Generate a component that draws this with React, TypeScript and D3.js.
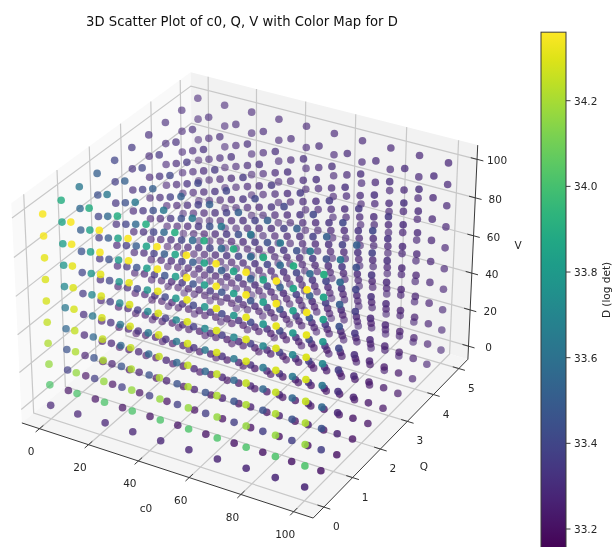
import React, { useEffect, useRef } from 'react';
import * as d3 from 'd3';

// grid levels of the scan
const c0Levels = [0, 11.11, 22.22, 33.33, 44.44, 55.56, 66.67, 77.78, 88.89, 100];
const qLevels = [0, 0.556, 1.111, 1.667, 2.222, 2.778, 3.333, 3.889, 4.444, 5];
const vLevels = [0, 11.11, 22.22, 33.33, 44.44, 55.56, 66.67, 77.78, 88.89, 100];

// D (log det) per Q level, one value per V level. c0 has no visible effect.
const dQ0 = [33.27, 34.02, 34.17, 34.21, 34.25, 34.28, 34.29, 34.31, 34.34, 34.35];
const dQ1 = [33.21, 33.37, 33.45, 33.55, 33.63, 33.71, 33.78, 33.82, 33.85, 33.9];
const dQ2 = [33.2, 33.25, 33.27, 33.31, 33.36, 33.4, 33.45, 33.5, 33.56, 33.63];
const dQ3 = [33.2, 33.22, 33.25, 33.27, 33.3, 33.33, 33.36, 33.39, 33.44, 33.51];
const dQ4 = [33.21, 33.22, 33.23, 33.25, 33.27, 33.28, 33.31, 33.33, 33.37, 33.4];
const dQ5 = [33.22, 33.23, 33.23, 33.25, 33.26, 33.27, 33.28, 33.3, 33.32, 33.34];
const dQ6 = [33.23, 33.23, 33.24, 33.24, 33.25, 33.26, 33.27, 33.28, 33.29, 33.31];
const dQ7 = [33.25, 33.25, 33.25, 33.25, 33.26, 33.26, 33.27, 33.28, 33.29, 33.3];
const dQ8 = [33.26, 33.26, 33.26, 33.26, 33.27, 33.27, 33.27, 33.28, 33.28, 33.29];
const dQ9 = [33.27, 33.27, 33.27, 33.27, 33.27, 33.27, 33.27, 33.28, 33.28, 33.28];
const dTable = [dQ0, dQ1, dQ2, dQ3, dQ4, dQ5, dQ6, dQ7, dQ8, dQ9];

const c0Ticks = [0, 20, 40, 60, 80, 100];
const qTicks = [0, 1, 2, 3, 4, 5];
const vTicks = [0, 20, 40, 60, 80, 100];
const dTicks = [33.2, 33.4, 33.6, 33.8, 34.0, 34.2];

const c0Lim: [number, number] = [-7.29, 107.29];
const qLim: [number, number] = [-0.365, 5.365];
const vLim: [number, number] = [-7.29, 107.29];
const dDomain: [number, number] = [33.15, 34.36];

const FONT = '"DejaVu Sans", sans-serif';
const TEXT = '#262626';

// same camera matplotlib uses for elev=30 azim=-60
const boxXY = 1.1905;
const boxZ = 0.8929;
const worldX = d3.scaleLinear().domain(c0Lim).range([-boxXY / 2, boxXY / 2]);
const worldY = d3.scaleLinear().domain(qLim).range([-boxXY / 2, boxXY / 2]);
const worldZ = d3.scaleLinear().domain(vLim).range([-boxZ / 2, boxZ / 2]);
const screenX = d3.scaleLinear().domain([0, 1]).range([249, 249 + 2803]);
const screenY = d3.scaleLinear().domain([0, 1]).range([284.5, 284.5 - 2803]);

const view = [0.433, -0.75, 0.5];
const right = [0.866, 0.5, 0];
const up = [-0.25, 0.433, 0.866];
const dot = (a: number[], b: number[]) => a[0] * b[0] + a[1] * b[1] + a[2] * b[2];

function depth(c: number, q: number, v: number) {
    return dot([worldX(c), worldY(q), worldZ(v)], view);
}

function project(c: number, q: number, v: number): [number, number] {
    const p = [worldX(c), worldY(q), worldZ(v)];
    const dist = 10 - dot(p, view);
    return [screenX(dot(p, right) / dist), screenY(dot(p, up) / dist)];
}

type P3 = [number, number, number];

function App() {
    const ref = useRef<SVGSVGElement>(null);

    useEffect(() => {
        const svg = d3.select(ref.current);
        svg.selectAll('*').remove();

        const line = d3.line();
        const path3 = (pts: P3[]) => line(pts.map((p) => project(p[0], p[1], p[2])));
        const [x0, x1] = c0Lim;
        const [y0, y1] = qLim;
        const [z0, z1] = vLim;

        // panes
        const panes: [P3[], string][] = [
            [[[x0, y0, z0], [x0, y1, z0], [x0, y1, z1], [x0, y0, z1]], '#f9f9f9'],
            [[[x0, y1, z0], [x1, y1, z0], [x1, y1, z1], [x0, y1, z1]], '#f2f2f2'],
            [[[x0, y0, z0], [x1, y0, z0], [x1, y1, z0], [x0, y1, z0]], '#f5f5f5'],
        ];
        panes.forEach(([pts, fill]) => {
            svg.append('path').attr('d', path3(pts) + 'Z').attr('fill', fill);
        });

        // grid
        const grid = svg.append('g').attr('fill', 'none').attr('stroke', '#c8c8c8').attr('stroke-width', 1.2);
        c0Ticks.forEach((t) => grid.append('path').attr('d', path3([[t, y0, z0], [t, y1, z0], [t, y1, z1]])));
        qTicks.forEach((t) => grid.append('path').attr('d', path3([[x1, t, z0], [x0, t, z0], [x0, t, z1]])));
        vTicks.forEach((t) => grid.append('path').attr('d', path3([[x0, y0, t], [x0, y1, t], [x1, y1, t]])));

        // axes and ticks
        const axes = svg.append('g').attr('fill', 'none').attr('stroke', '#3a3a3a').attr('stroke-width', 1);
        axes.append('path').attr('d', path3([[x0, y0, z0], [x1, y0, z0], [x1, y1, z0], [x1, y1, z1]]));
        const tickQ = 0.12;
        const tickC = 2.4;
        c0Ticks.forEach((t) => axes.append('path').attr('d', path3([[t, y0 - tickQ, z0], [t, y0 + tickQ, z0]])));
        qTicks.forEach((t) => axes.append('path').attr('d', path3([[x1 - tickC, t, z0], [x1 + tickC, t, z0]])));
        vTicks.forEach((t) => axes.append('path').attr('d', path3([[x1 - tickC, y1, t], [x1 + tickC, y1, t]])));

        const label = (x: number, y: number, s: string, size = 10.5) =>
            svg.append('text')
                .attr('x', x).attr('y', y)
                .attr('text-anchor', 'middle')
                .attr('dominant-baseline', 'central')
                .attr('font-family', FONT)
                .attr('font-size', size)
                .attr('fill', TEXT)
                .text(s);

        c0Ticks.forEach((t) => {
            const [x, y] = project(t, y0, z0);
            label(x - 8.5, y + 22.5, String(t));
        });
        qTicks.forEach((t) => {
            const [x, y] = project(x1, t, z0);
            label(x + 12.5, y + 19, String(t));
        });
        vTicks.forEach((t) => {
            const [x, y] = project(x1, y1, t);
            label(x + 20, y + 1, String(t));
        });
        label(146, 508, 'c0');
        label(424, 466, 'Q');
        label(518, 245, 'V');
        label(242, 21, '3D Scatter Plot of c0, Q, V with Color Map for D', 13.2).attr('fill', '#111');

        // scatter, far points first, fading with depth
        const color = d3.scaleSequential(d3.interpolateViridis).domain(dDomain);
        const points = c0Levels.flatMap((c) =>
            qLevels.flatMap((q, i) => vLevels.map((v, j) => ({ c, q, v, d: dTable[i][j] })))
        );
        const depthExtent = d3.extent(points, (p) => depth(p.c, p.q, p.v)) as [number, number];
        const opacity = d3.scaleLinear().domain(depthExtent).range([0.45, 1]);
        points.sort((a, b) => depth(a.c, a.q, a.v) - depth(b.c, b.q, b.v));
        svg.append('g')
            .selectAll('circle')
            .data(points)
            .join('circle')
            .attr('cx', (p) => project(p.c, p.q, p.v)[0])
            .attr('cy', (p) => project(p.c, p.q, p.v)[1])
            .attr('r', 3.8)
            .attr('fill', (p) => color(p.d))
            .attr('fill-opacity', (p) => opacity(depth(p.c, p.q, p.v)));

        // colorbar
        const barY = d3.scaleLinear().domain([33.2, 34.2]).range([529, 100.7]);
        const defs = svg.append('defs');
        const grad = defs.append('linearGradient')
            .attr('id', 'viridis-bar')
            .attr('x1', 0).attr('x2', 0).attr('y1', 1).attr('y2', 0);
        d3.range(0, 1.001, 0.05).forEach((t) => {
            grad.append('stop')
                .attr('offset', t)
                .attr('stop-color', d3.interpolateViridis(t));
        });
        const barTop = barY(dDomain[1]);
        const barBottom = barY(dDomain[0]);
        svg.append('rect')
            .attr('x', 541).attr('y', barTop)
            .attr('width', 25).attr('height', barBottom - barTop)
            .attr('fill', 'url(#viridis-bar)')
            .attr('stroke', '#3a3a3a').attr('stroke-width', 1);
        dTicks.forEach((t) => {
            svg.append('line')
                .attr('x1', 566).attr('x2', 570.5)
                .attr('y1', barY(t)).attr('y2', barY(t))
                .attr('stroke', '#3a3a3a');
            svg.append('text')
                .attr('x', 574).attr('y', barY(t))
                .attr('dominant-baseline', 'central')
                .attr('font-family', FONT).attr('font-size', 10.5).attr('fill', TEXT)
                .text(t.toFixed(1));
        });
        svg.append('text')
            .attr('transform', 'translate(606,290) rotate(-90)')
            .attr('text-anchor', 'middle')
            .attr('dominant-baseline', 'central')
            .attr('font-family', FONT).attr('font-size', 10.5).attr('fill', TEXT)
            .text('D (log det)');
    }, []);

    return (
        <svg
            ref={ref}
            width={613}
            height={547}
            style={{ position: 'absolute', left: 0, top: 0, background: '#fff', filter: 'blur(0.45px)' }}
        />
    );
}

export default App;
